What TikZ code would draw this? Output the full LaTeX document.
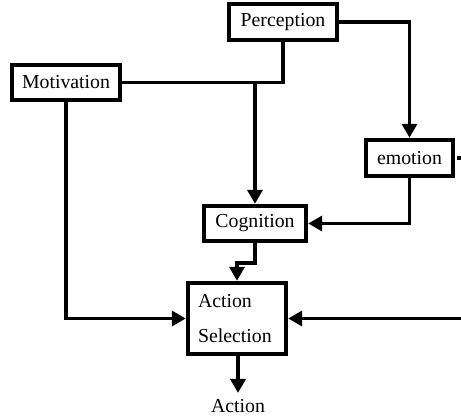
\documentclass[tikz,border=0pt]{standalone}
\usepackage{fontspec}
\setmainfont{Liberation Serif}
\usetikzlibrary{arrows.meta}
\begin{document}
\begin{tikzpicture}[x=0.5pt,y=-0.5pt,
  font=\fontsize{9.9}{12}\selectfont,
  box/.style={draw=black,line width=2.2pt,fill=white,inner sep=0pt,minimum width=#1},
  conn/.style={line width=1.8pt,-{Triangle[length=7pt,width=7.5pt]}},
  plain/.style={line width=1.8pt}]
\useasboundingbox (0,0) rectangle (461,416);
\node[box=54pt,minimum height=18pt] (perc) at (283,22) {\raisebox{-1pt}{Perception}};
\node[box=54pt,minimum height=17.5pt] (mot) at (66,82.5) {\raisebox{-1pt}{Motivation}};
\node[box=43.5pt,minimum height=18pt] (emo) at (409.5,158) {\raisebox{-1pt}{emotion}};
\node[box=51pt,minimum height=17.5pt] (cog) at (255,223.5) {\raisebox{-1pt}{Cognition}};
\node[draw=black,line width=2.2pt,fill=white,inner xsep=5pt,inner ysep=0pt,text width=39pt,minimum height=35.5pt,align=left] (as) at (237,318.5) {Action\\[5.5pt]Selection};
\node[inner sep=0pt] (act) at (238,406) {Action};
\coordinate (emoR) at (461,158);
\coordinate (asR) at (461,318.5);
\coordinate (jn) at (255,82.5);
\coordinate (jog) at (255,263);
\draw[conn] (perc.east) -| (emo.north);
\draw[plain] (perc.south) |- (mot.east);
\draw[conn] (jn) -- (cog.north);
\draw[conn] (emo.south) |- (cog.east);
\draw[plain] ([xshift=1pt]emo.east) -- (emoR);
\draw[conn] (cog.south) -- (jog) -| (as.north);
\draw[conn] (mot.south) |- (as.west);
\draw[conn] (asR) -- (as.east);
\draw[conn,shorten >=3pt] (as.south -| act.north) -- (act.north);
\end{tikzpicture}
\end{document}
